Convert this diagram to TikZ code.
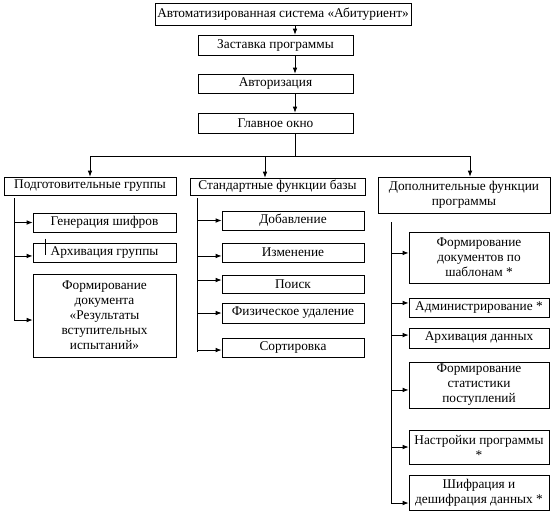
\documentclass[tikz,border=0pt]{standalone}
\usepackage{fontspec}
\setmainfont{Liberation Serif}
\usetikzlibrary{arrows.meta}
\newcommand{\boxnode}[6]{\node[box, minimum width={(#4-#2)*0.75pt}, minimum height={(#5-#3)*0.75pt}] (#1) at ({(#2+#4)/2},{(#3+#5)/2}) {#6};}
\begin{document}
\begin{tikzpicture}[x=0.75pt,y=-0.75pt,
  box/.style={draw, line width=0.6pt, inner sep=1pt, align=center, font=\fontsize{10}{11.25}\selectfont},
  conn/.style={line width=0.6pt},
  arr/.style={line width=0.6pt, -{Latex[length=4.5pt,width=3.5pt]}}]
\useasboundingbox (0,0) rectangle (553,515);
% top chain
\boxnode{top}{155}{3}{411}{25}{Автоматизированная система «Абитуриент»}
\boxnode{zast}{198}{35}{353}{55}{Заставка программы}
\boxnode{avt}{198}{74}{353}{93}{Авторизация}
\boxnode{glav}{198}{113}{353}{133}{Главное окно}
\coordinate (spine) at (295,0);
\draw[arr] (top.south -| spine) -- (zast.north -| spine);
\draw[arr] (zast.south -| spine) -- (avt.north -| spine);
\draw[arr] (avt.south -| spine) -- (glav.north -| spine);
% bus
\coordinate (bc) at (295,156);
\coordinate (bl) at (90,156);
\coordinate (bm) at (265,156);
\coordinate (br) at (470,156);
\draw[conn] (glav.south -| bc) -- (bc);
\draw[conn] (bl) -- (br);
% second level
\boxnode{podg}{4}{177}{176}{195}{Подготовительные группы}
\boxnode{std}{190}{178}{365}{195}{Стандартные функции базы}
\boxnode{dop}{378}{177}{550}{213}{Дополнительные функции\\программы}
\draw[arr] (bl) -- (podg.north -| bl);
\draw[arr] (bm) -- (std.north -| bm);
\draw[arr] (br) -- (dop.north -| br);
% left column
\boxnode{gen}{33}{213}{176}{232}{Генерация шифров}
\boxnode{ark}{33}{243}{176}{262}{Архивация группы}
\boxnode{fdoc}{33}{274}{176}{357}{Формирование\\документа\\«Результаты\\вступительных\\испытаний»}
\coordinate (lt) at (14,198);
\coordinate (lb) at (14,320);
\draw[conn] (lt) -- (lb);
\draw[arr] (gen.west -| lt) -- (gen.west);
\draw[arr] ([yshift=-2.6pt]ark.west -| lt) -- ([yshift=-2.6pt]ark.west);
\draw[arr] (lb) -- (fdoc.west |- lb);
\draw[line width=1.1pt] ([xshift=9.75pt,yshift=3pt]ark.north west) -- ([xshift=9.75pt,yshift=-9pt]ark.north west);
% middle column
\boxnode{dob}{222}{211}{364}{230}{Добавление}
\boxnode{izm}{222}{243}{364}{262}{Изменение}
\boxnode{poi}{222}{275}{364}{293}{Поиск}
\boxnode{fiz}{222}{303}{364}{323}{Физическое удаление}
\boxnode{sor}{222}{338}{364}{357}{Сортировка}
\coordinate (mt) at (197,198);
\coordinate (mb) at (197,352);
\draw[conn] (mt) -- (mb);
\draw[arr] (dob.west -| mt) -- (dob.west);
\draw[arr] ([yshift=-2.6pt]izm.west -| mt) -- ([yshift=-2.6pt]izm.west);
\draw[arr] ([yshift=3pt]poi.west -| mt) -- ([yshift=3pt]poi.west);
\draw[arr] (fiz.west -| mt) -- (fiz.west);
\draw[arr] ([yshift=-1.9pt]sor.west -| mt) -- ([yshift=-1.9pt]sor.west);
% right column
\boxnode{shab}{409}{232}{549}{283}{Формирование\\документов по\\шаблонам *}
\boxnode{adm}{409}{298}{549}{317}{Администрирование *}
\boxnode{arkd}{409}{328}{549}{348}{Архивация данных}
\boxnode{stat}{409}{362}{549}{408}{Формирование\\статистики\\поступлений}
\boxnode{nast}{409}{430}{549}{464}{Настройки программы\\*}
\boxnode{shif}{409}{475}{549}{510}{Шифрация и\\дешифрация данных *}
\coordinate (rt) at (391,222);
\coordinate (rb) at (391,503);
\draw[conn] (rt) -- (rb);
\draw[arr] ([yshift=3.4pt]shab.west -| rt) -- ([yshift=3.4pt]shab.west);
\draw[arr] ([yshift=3.4pt]adm.west -| rt) -- ([yshift=3.4pt]adm.west);
\draw[arr] ([yshift=2.2pt]arkd.west -| rt) -- ([yshift=2.2pt]arkd.west);
\draw[arr] ([yshift=-3.7pt]stat.west -| rt) -- ([yshift=-3.7pt]stat.west);
\draw[arr] (nast.west -| rt) -- (nast.west);
\draw[arr] (rb) -- (shif.west |- rb);
\end{tikzpicture}
\end{document}
